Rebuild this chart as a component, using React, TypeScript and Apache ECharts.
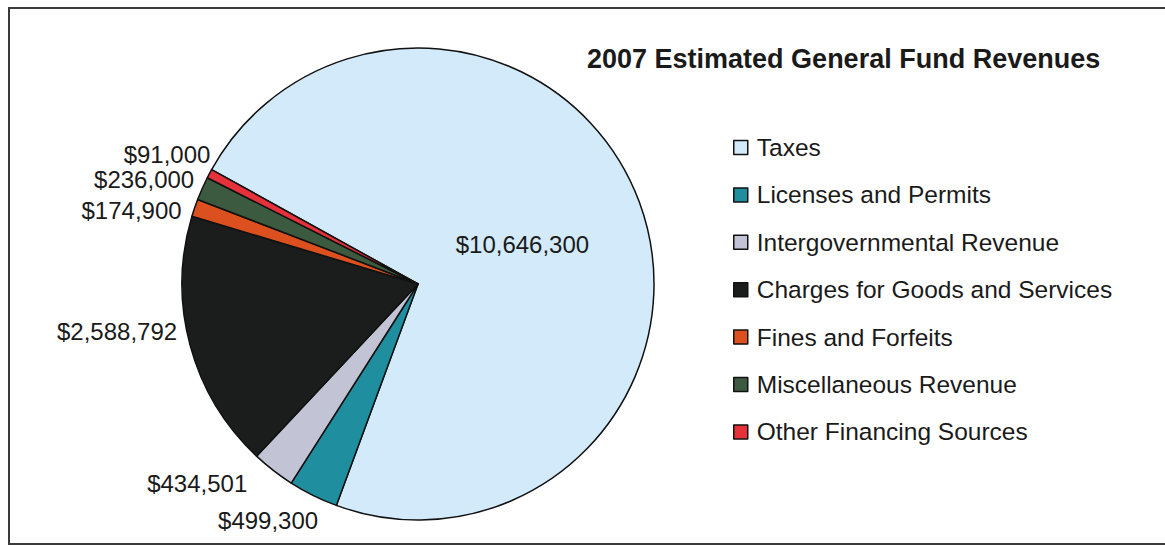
import React, { useEffect, useRef } from "react";
import * as echarts from "echarts";

const categories = [
  "Taxes",
  "Licenses and Permits",
  "Intergovernmental Revenue",
  "Charges for Goods and Services",
  "Fines and Forfeits",
  "Miscellaneous Revenue",
  "Other Financing Sources",
];
const revenues = [10646300, 499300, 434501, 2588792, 174900, 236000, 91000];
const sliceColors = ["#d3eafa", "#1f8e9f", "#c3c3d6", "#1b1d1c", "#dc4f1e", "#3c5a3f", "#e6303a"];
const titleText = "2007 Estimated General Fund Revenues";

// label nudges (style only) per slice
const labelNudge: [number, number][] = [
  [-9, 3],
  [10, 25],
  [-21, 13],
  [-8, -14],
  [-8, 3],
  [-3, -9],
  [6, -19],
];

const FONT = "'Liberation Sans', Arial, Helvetica, sans-serif";

export default function App() {
  const ref = useRef<HTMLDivElement>(null);
  useEffect(() => {
    if (!ref.current) return;
    const chart = echarts.init(ref.current, undefined, { renderer: "svg" });
    const data = categories.map((name, i) => ({
      name,
      value: revenues[i],
      itemStyle: { color: sliceColors[i] },
      label: i === 0 ? { position: "inside" } : undefined,
    }));
    chart.setOption({
      animation: false,
      backgroundColor: "#ffffff",
      title: {
        text: titleText,
        left: 587,
        top: 45,
        padding: 0,
        textStyle: { fontFamily: FONT, fontSize: 27, fontWeight: "bold", color: "#1a1a1a" },
      },
      legend: {
        orient: "vertical",
        left: 733,
        top: 135,
        padding: 0,
        itemWidth: 14,
        itemHeight: 14,
        itemGap: 22.4,
        icon: "rect",
        data: categories,
        itemStyle: { borderColor: "#111", borderWidth: 1.5 },
        textStyle: { fontFamily: FONT, fontSize: 24.5, color: "#1a1a1a", padding: [0, 0, 0, 4] },
      },
      graphic: [
        {
          type: "rect",
          shape: { x: 9, y: 8, width: 1170, height: 536 },
          style: { fill: "none", stroke: "#3a3a3a", lineWidth: 2 },
          silent: true,
          z: -1,
        },
      ],
      series: [
        {
          type: "pie",
          center: [418, 284],
          radius: 236,
          startAngle: 151,
          clockwise: true,
          avoidLabelOverlap: false,
          itemStyle: { borderColor: "#111", borderWidth: 1.5 },
          label: {
            show: true,
            position: "outside",
            fontFamily: FONT,
            fontSize: 24,
            color: "#1a1a1a",
            formatter: (p: any) => "$" + Number(p.value).toLocaleString("en-US"),
          },
          labelLine: { show: false, length: 0, length2: 0 },
          labelLayout: (p: any) => {
            const n = labelNudge[p.dataIndex] || [0, 0];
            return { dx: n[0], dy: n[1] };
          },
          emphasis: { disabled: true },
          data,
        },
      ],
    });
    return () => chart.dispose();
  }, []);
  return (
    <div
      ref={ref}
      style={{ position: "fixed", left: 0, top: 0, width: 1165, height: 546 }}
    />
  );
}
